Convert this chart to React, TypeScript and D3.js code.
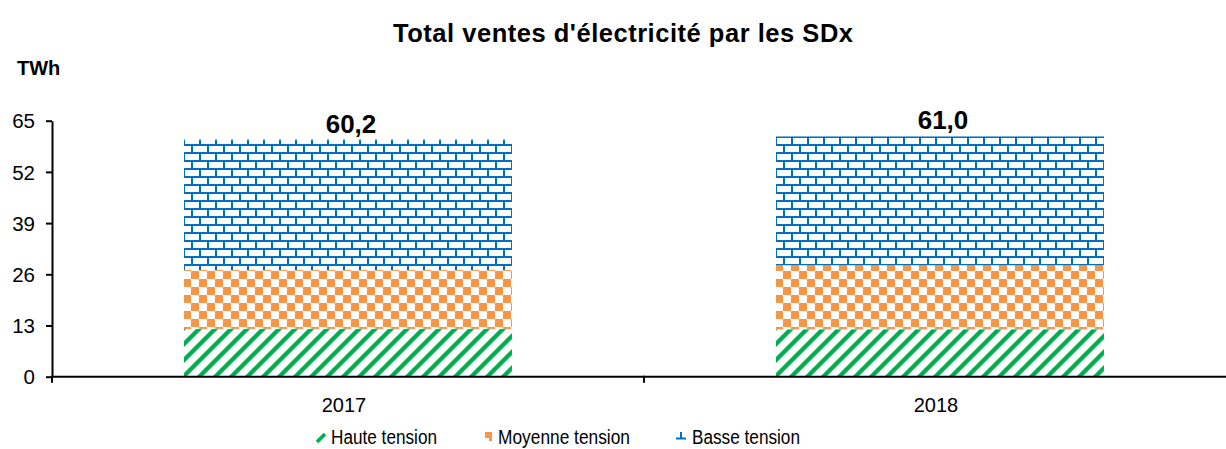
import { useEffect, useRef } from "react";
import * as d3 from "d3";

const years = ["2017", "2018"];
const hauteTension = [12.1, 12.0];
const moyenneTension = [15.0, 16.3];
const basseTension = [33.1, 32.7];
const seriesNames = ["Haute tension", "Moyenne tension", "Basse tension"];
const yTicks = [0, 13, 26, 39, 52, 65];

const GREEN = "#00B050";
const ORANGE = "#F79646";
const BLUE = "#0070C0";
const FONT = "'Liberation Sans', Arial, sans-serif";

export default function App() {
  const svgRef = useRef<SVGSVGElement>(null);

  useEffect(() => {
    const el = svgRef.current;
    if (!el) return;
    const W = 1226;
    const H = 449;
    d3.select(el).selectAll("*").remove();
    const svg = d3.select(el).attr("width", W).attr("height", H).attr("viewBox", `0 0 ${W} ${H}`);

    const rows = years.map((year, i) => ({
      year,
      haute: hauteTension[i],
      moyenne: moyenneTension[i],
      basse: basseTension[i],
    }));
    const keys = ["haute", "moyenne", "basse"];
    const stacked = d3.stack<any>().keys(keys)(rows);

    const x = d3.scaleBand().domain(years).range([52, 1236]).paddingInner(0.446).paddingOuter(0.223);
    const y = d3.scaleLinear().domain([0, 65]).range([376.7, 120.7]);

    // Patterns
    const defs = svg.append("defs");
    const diag = defs.append("pattern").attr("id", "pat-haute")
      .attr("patternUnits", "userSpaceOnUse").attr("width", 16).attr("height", 16);
    diag.append("path")
      .attr("d", "M-4,4L4,-4M0,16L16,0M12,20L20,12")
      .attr("stroke", GREEN).attr("stroke-width", 4.3);

    const check = defs.append("pattern").attr("id", "pat-moyenne")
      .attr("patternUnits", "userSpaceOnUse").attr("x", -1).attr("y", -1)
      .attr("width", 16).attr("height", 16);
    check.append("rect").attr("x", 0).attr("y", 0).attr("width", 8).attr("height", 8).attr("fill", ORANGE);
    check.append("rect").attr("x", 8).attr("y", 8).attr("width", 8).attr("height", 8).attr("fill", ORANGE);

    const brick = defs.append("pattern").attr("id", "pat-basse")
      .attr("patternUnits", "userSpaceOnUse").attr("x", -1).attr("y", 0)
      .attr("width", 16).attr("height", 16);
    brick.append("rect").attr("x", 0).attr("y", 0).attr("width", 16).attr("height", 2).attr("fill", BLUE);
    brick.append("rect").attr("x", 0).attr("y", 8).attr("width", 16).attr("height", 2).attr("fill", BLUE);
    brick.append("rect").attr("x", 0).attr("y", 0).attr("width", 2).attr("height", 8).attr("fill", BLUE);
    brick.append("rect").attr("x", 8).attr("y", 8).attr("width", 2).attr("height", 8).attr("fill", BLUE);

    const g = svg.append("g");

    // Bars
    g.selectAll("g.layer")
      .data(stacked)
      .join("g")
      .attr("class", "layer")
      .attr("fill", d => `url(#pat-${d.key})`)
      .selectAll("rect")
      .data(d => d)
      .join("rect")
      .attr("x", d => x(d.data.year)!)
      .attr("width", x.bandwidth())
      .attr("y", d => y(d[1]))
      .attr("height", d => y(d[0]) - y(d[1]));

    // Totals
    const last = stacked[stacked.length - 1];
    g.selectAll("text.total")
      .data(last)
      .join("text")
      .attr("class", "total")
      .attr("x", d => x(d.data.year)! + x.bandwidth() / 2 + 3)
      .attr("y", d => y(d[1]) - 7)
      .attr("text-anchor", "middle")
      .attr("font-family", FONT)
      .attr("font-weight", "bold")
      .attr("font-size", 26)
      .text(d => d[1].toFixed(1).replace(".", ","));

    // Y axis
    g.append("g")
      .attr("transform", "translate(52,0)")
      .call(d3.axisLeft(y).tickValues(yTicks).tickSize(6).tickSizeOuter(0).tickPadding(11))
      .call(ax => ax.select(".domain").attr("stroke", "#000").attr("stroke-width", 2))
      .call(ax => ax.selectAll("line").attr("stroke", "#000").attr("stroke-width", 2))
      .call(ax => ax.selectAll("text").attr("fill", "#000").attr("font-size", 20.5).attr("font-family", FONT).attr("dy", "0.35em"));

    // X axis
    const x0 = x.range()[0];
    const boundaries = d3.range(years.length + 1).map(i => x0 + i * x.step());
    const xAxis = g.append("g").attr("transform", `translate(0,${y(0)})`);
    xAxis.append("line")
      .attr("x1", boundaries[0]).attr("x2", boundaries[boundaries.length - 1])
      .attr("stroke", "#000").attr("stroke-width", 2);
    xAxis.selectAll("line.tick")
      .data(boundaries)
      .join("line")
      .attr("class", "tick")
      .attr("x1", d => d).attr("x2", d => d)
      .attr("y1", -1).attr("y2", 6)
      .attr("stroke", "#000").attr("stroke-width", 2);
    xAxis.selectAll("text")
      .data(years)
      .join("text")
      .attr("x", d => x(d)! + x.bandwidth() / 2 - 4)
      .attr("y", 35)
      .attr("text-anchor", "middle")
      .attr("font-family", FONT)
      .attr("font-size", 20)
      .text(d => d);

    // Title
    svg.append("text")
      .attr("x", 623).attr("y", 42)
      .attr("text-anchor", "middle")
      .attr("font-family", FONT).attr("font-weight", "bold").attr("font-size", 25.5)
      .attr("textLength", 460).attr("lengthAdjust", "spacing")
      .text("Total ventes d'électricité par les SDx");

    svg.append("text")
      .attr("x", 17).attr("y", 75)
      .attr("font-family", FONT).attr("font-weight", "bold").attr("font-size", 20)
      .text("TWh");

    // Legend
    const legendX = [331, 498, 692];
    const legendW = [106, 132, 108];
    const lg = svg.append("g");
    seriesNames.forEach((name, i) => {
      lg.append("text")
        .attr("x", legendX[i]).attr("y", 444)
        .attr("font-family", FONT).attr("font-size", 19.5)
        .attr("textLength", legendW[i]).attr("lengthAdjust", "spacingAndGlyphs")
        .text(name);
    });
    // legend markers
    lg.append("path").attr("d", "M317,442L325,434").attr("stroke", GREEN).attr("stroke-width", 3.5);
    lg.append("path").attr("d", "M485,432h7v9h-3v-3h-4z").attr("fill", ORANGE);
    lg.append("path").attr("d", "M676,438.5h10M681,432v6").attr("stroke", BLUE).attr("stroke-width", 2);
  }, []);

  return (
    <svg
      ref={svgRef}
      style={{ position: "fixed", left: 0, top: 0, background: "#fff" }}
      width={1226}
      height={449}
    />
  );
}
